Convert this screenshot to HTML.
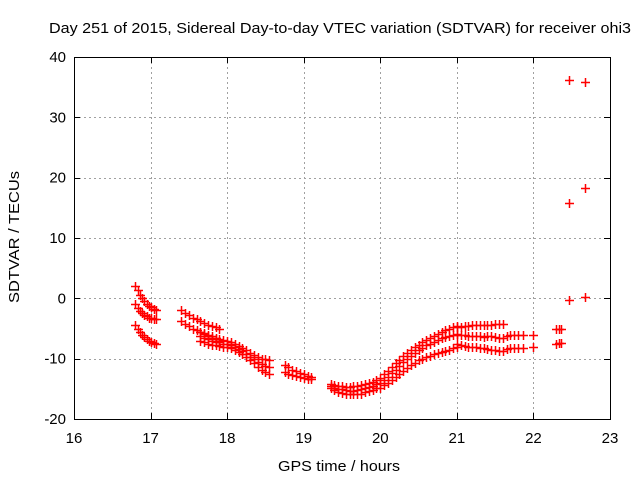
<!DOCTYPE html>
<html><head><meta charset="utf-8"><style>
body{margin:0;background:#fff}
svg{display:block;font-family:"Liberation Sans",sans-serif}
</style></head><body>
<svg id="chart" width="640" height="480" xmlns="http://www.w3.org/2000/svg">
<rect width="640" height="480" fill="#fff"/>
<text x="340" y="33" font-size="15" text-anchor="middle" textLength="582" lengthAdjust="spacingAndGlyphs">Day 251 of 2015, Sidereal Day-to-day VTEC variation (SDTVAR) for receiver ohi3</text>
<text x="339" y="471" font-size="15" text-anchor="middle" textLength="122" lengthAdjust="spacingAndGlyphs">GPS time / hours</text>
<text x="19" y="237" font-size="15" text-anchor="middle" textLength="132" lengthAdjust="spacingAndGlyphs" transform="rotate(-90 19 237)">SDTVAR / TECUs</text>
<g id="grid"></g>
<g id="ticks"></g>
<g id="marks"></g>
<rect x="74.5" y="57.5" width="536" height="362" fill="none" stroke="#000" stroke-width="1"/>
</svg>
<script>
const xTicks=[16,17,18,19,20,21,22,23];
const yTicks=[-20,-10,0,10,20,30,40];
const ax_x=[16.80,16.83,16.86,16.89,16.92,16.95,16.98,17.01,17.04,17.07];
const a1_y=[2.0,1.3,0.6,0.0,-0.5,-0.9,-1.2,-1.5,-1.7,-1.9];
const a2_y=[-1.0,-1.6,-2.1,-2.5,-2.8,-3.0,-3.2,-3.3,-3.4,-3.5];
const a3_y=[-4.5,-5.1,-5.6,-6.0,-6.4,-6.7,-7.0,-7.2,-7.4,-7.5];
const d_x=[17.40,17.45,17.50,17.55,17.60,17.65,17.70,17.75,17.80,17.85,17.90];
const d1_y=[-2.0,-2.4,-2.8,-3.2,-3.5,-3.8,-4.1,-4.4,-4.6,-4.8,-5.0];
const d2_y=[-3.8,-4.2,-4.6,-5.0,-5.3,-5.6,-5.9,-6.2,-6.5,-6.8,-7.0];
const f_x=[17.65,17.70,17.75,17.80,17.85,17.90,17.95,18.00,18.05,18.10,18.15,18.20,18.25,18.30,18.35,18.40,18.45,18.50,18.55];
const f1_y=[-5.5,-5.8,-6.1,-6.3,-6.5,-6.7,-6.9,-7.1,-7.3,-7.6,-7.9,-8.2,-8.6,-9.0,-9.4,-9.7,-10.0,-10.1,-10.2];
const f3_y=[-6.3,-6.6,-6.8,-7.0,-7.2,-7.3,-7.5,-7.6,-7.8,-8.1,-8.4,-8.8,-9.2,-9.7,-10.1,-10.5,-10.9,-11.2,-11.4];
const f2_y=[-7.0,-7.3,-7.5,-7.7,-7.8,-7.9,-8.0,-8.1,-8.2,-8.5,-8.9,-9.3,-9.8,-10.3,-10.8,-11.3,-11.8,-12.2,-12.5];
const i_x=[18.75,18.80,18.85,18.90,18.95,19.00,19.05,19.10];
const i1_y=[-11.0,-11.4,-11.8,-12.1,-12.4,-12.6,-12.8,-13.0];
const i2_y=[-12.2,-12.5,-12.7,-12.9,-13.0,-13.2,-13.3,-13.4];
const j_x=[19.35,19.40,19.45,19.50,19.55,19.60,19.65,19.70,19.75,19.80,19.85,19.90,19.95];
const j1_y=[-14.2,-14.4,-14.5,-14.6,-14.7,-14.7,-14.6,-14.5,-14.4,-14.2,-14.0,-13.8,-13.5];
const j3_y=[-14.5,-14.8,-15.0,-15.1,-15.2,-15.3,-15.3,-15.2,-15.1,-14.9,-14.7,-14.5,-14.2];
const j2_y=[-14.8,-15.2,-15.5,-15.7,-15.8,-15.9,-15.9,-15.9,-15.8,-15.6,-15.4,-15.2,-14.9];
const k_x=[20.00,20.05,20.10,20.15,20.20,20.25,20.30,20.35,20.40,20.45,20.50,20.55,20.60,20.65,20.70,20.75,20.80,20.85,20.90,20.95,21.00];
const k1_y=[-13.2,-12.6,-12.0,-11.4,-10.8,-10.2,-9.6,-9.1,-8.6,-8.1,-7.7,-7.3,-6.9,-6.5,-6.2,-5.9,-5.6,-5.3,-5.0,-4.8,-4.6];
const k2_y=[-14.0,-13.5,-13.0,-12.4,-11.8,-11.2,-10.6,-10.0,-9.5,-9.0,-8.6,-8.2,-7.8,-7.5,-7.2,-6.9,-6.6,-6.4,-6.2,-6.0,-5.9];
const k3_y=[-14.8,-14.4,-14.0,-13.5,-13.0,-12.5,-12.0,-11.5,-11.1,-10.7,-10.3,-10.0,-9.7,-9.5,-9.3,-9.1,-8.9,-8.7,-8.5,-8.3,-8.1];
const l_x=[21.00,21.05,21.10,21.15,21.20,21.25,21.30,21.35,21.40,21.45,21.50,21.55,21.60];
const l1_y=[-4.8,-4.7,-4.6,-4.6,-4.5,-4.5,-4.4,-4.4,-4.4,-4.4,-4.3,-4.3,-4.3];
const l2_y=[-6.0,-6.0,-6.1,-6.2,-6.2,-6.3,-6.3,-6.4,-6.3,-6.3,-6.4,-6.5,-6.5];
const l3_y=[-7.6,-7.8,-7.9,-8.0,-8.0,-8.1,-8.2,-8.3,-8.4,-8.5,-8.6,-8.7,-8.8];
const s_x=[21.65,21.70,21.75,21.80,21.87,22.00];
const s1_y=[-6.2,-6.1,-6.1,-6.1,-6.1,-6.0];
const s2_y=[-8.4,-8.3,-8.3,-8.2,-8.2,-8.1];
const t_x=[22.30,22.33,22.36];
const t1_y=[-5.0,-5.0,-5.0];
const t2_y=[-7.5,-7.4,-7.4];
const o_x=[22.47,22.67,22.47,22.67,22.47,22.67];
const o_y=[36.2,35.9,15.8,18.3,-0.2,0.3];

const X0=74,X1=610,Y0=419,Y1=57;
const sx=v=>X0+(v-16)/(23-16)*(X1-X0);
const sy=v=>Y0-(v+20)/60*(Y0-Y1);
const NS="http://www.w3.org/2000/svg";
const grid=document.getElementById('grid'),ticks=document.getElementById('ticks'),marks=document.getElementById('marks');
function ln(p,x1,y1,x2,y2,st,dash){const l=document.createElementNS(NS,'line');l.setAttribute('x1',x1);l.setAttribute('y1',y1);l.setAttribute('x2',x2);l.setAttribute('y2',y2);l.setAttribute('stroke',st);if(dash)l.setAttribute('stroke-dasharray',dash);p.appendChild(l);return l;}
function tx(x,y,s,anchor,name){const t=document.createElementNS(NS,'text');t.setAttribute('x',x);t.setAttribute('y',y);t.setAttribute('font-size','15');t.setAttribute('text-anchor',anchor);t.textContent=s;ticks.appendChild(t);

}
xTicks.forEach(v=>{const x=Math.round(sx(v))+0.5;
if(v>16&&v<23){const g=ln(grid,x,Y1,x,Y0,'#a0a0a0','2,3');}
ln(ticks,x,Y0,x,Y0-6,'#000');ln(ticks,x,Y1,x,Y1+6,'#000');
tx(sx(v),Y0+24,String(v),'middle','x-tick-label');});
yTicks.forEach(v=>{const y=Math.round(sy(v))+0.5;
if(v>-20&&v<40){const g=ln(grid,X0,y,X1,y,'#a0a0a0','2,3');}
ln(ticks,X0,y,X0+6,y,'#000');ln(ticks,X1,y,X1-6,y,'#000');
tx(X0-8,sy(v)+5,String(v),'end','y-tick-label');});
function plus(xv,yv){const x=Math.round(sx(xv))+0.5,y=Math.round(sy(yv))+0.5;const p=document.createElementNS(NS,'path');
p.setAttribute('d',`M${x-4.5} ${y}H${x+4.5}M${x} ${y-4.5}V${y+4.5}`);p.setAttribute('stroke','#f00');p.setAttribute('stroke-width','1.5');


marks.appendChild(p);}
[[ax_x,a1_y],[ax_x,a2_y],[ax_x,a3_y],[d_x,d1_y],[d_x,d2_y],[f_x,f1_y],[f_x,f3_y],[f_x,f2_y],[i_x,i1_y],[i_x,i2_y],[j_x,j1_y],[j_x,j3_y],[j_x,j2_y],[k_x,k1_y],[k_x,k2_y],[k_x,k3_y],[l_x,l1_y],[l_x,l2_y],[l_x,l3_y],[s_x,s1_y],[s_x,s2_y],[t_x,t1_y],[t_x,t2_y],[o_x,o_y]].forEach(([xs,ys])=>xs.forEach((x,i)=>plus(x,ys[i])));
</script>
</body></html>
